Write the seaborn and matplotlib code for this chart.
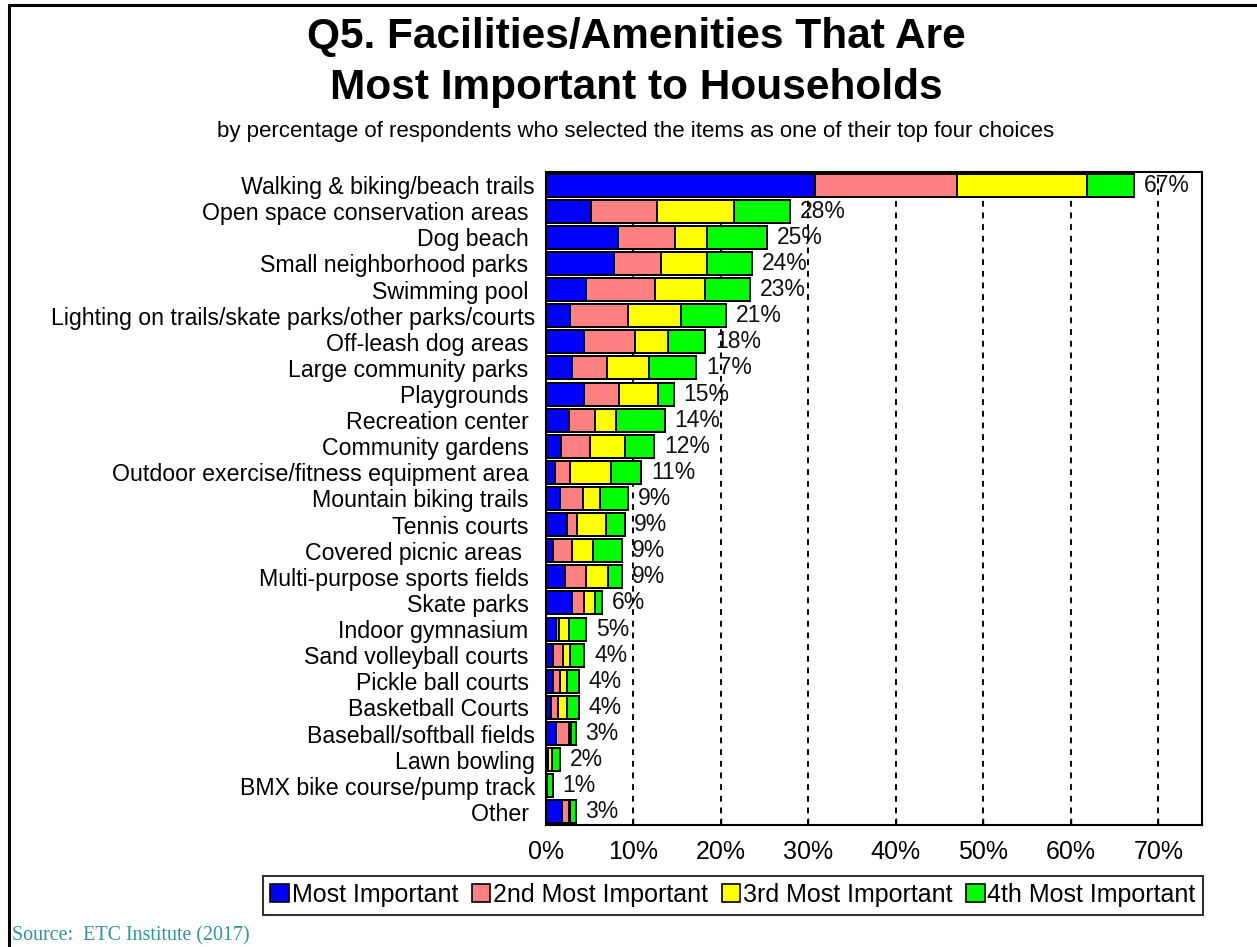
import numpy as np
import pandas as pd
import matplotlib
matplotlib.use("Agg")
import matplotlib.pyplot as plt
from matplotlib.patches import Patch
from matplotlib.lines import Line2D
import seaborn as sns

# Facilities, listed top to bottom
categories = [
    "Walking & biking/beach trails",
    "Open space conservation areas ",
    "Dog beach ",
    "Small neighborhood parks ",
    "Swimming pool ",
    "Lighting on trails/skate parks/other parks/courts",
    "Off-leash dog areas ",
    "Large community parks ",
    "Playgrounds ",
    "Recreation center ",
    "Community gardens ",
    "Outdoor exercise/fitness equipment area ",
    "Mountain biking trails ",
    "Tennis courts ",
    "Covered picnic areas  ",
    "Multi-purpose sports fields ",
    "Skate parks ",
    "Indoor gymnasium ",
    "Sand volleyball courts ",
    "Pickle ball courts ",
    "Basketball Courts ",
    "Baseball/softball fields",
    "Lawn bowling",
    "BMX bike course/pump track",
    "Other ",
]

# Percent of respondents choosing each item as 1st..4th most important
most_important = [30.7, 5.2, 8.2, 7.8, 4.6, 2.8, 4.4, 3.0, 4.4, 2.6, 1.7, 1.0, 1.6,
                  2.4, 0.8, 2.2, 3.0, 1.2, 0.8, 0.8, 0.6, 1.1, 0.1, 0.1, 1.8]
second_important = [16.3, 7.5, 6.6, 5.4, 7.9, 6.6, 5.8, 4.0, 4.0, 3.0, 3.3, 1.8, 2.6,
                    1.2, 2.2, 2.4, 1.4, 0.3, 1.1, 0.8, 0.8, 1.5, 0.1, 0.0, 0.8]
third_important = [14.8, 8.8, 3.6, 5.2, 5.7, 6.0, 3.8, 4.8, 4.4, 2.4, 4.0, 4.6, 2.0,
                   3.3, 2.4, 2.5, 1.2, 1.1, 0.9, 0.8, 1.0, 0.3, 0.5, 0.0, 0.1]
fourth_important = [5.4, 6.4, 6.9, 5.2, 5.1, 5.2, 4.2, 5.4, 1.8, 5.6, 3.4, 3.5, 3.2,
                    2.1, 3.3, 1.6, 0.8, 2.0, 1.6, 1.4, 1.4, 0.5, 0.9, 0.7, 0.7]

series_names = ["Most Important", "2nd Most Important", "3rd Most Important", "4th Most Important"]
series_colors = ["#0000FF", "#FF8080", "#FFFF00", "#00FF00"]
x_ticks = [0, 10, 20, 30, 40, 50, 60, 70]

title_lines = ["Q5. Facilities/Amenities That Are", "Most Important to Households"]
subtitle_text = "by percentage of respondents who selected the items as one of their top four choices"
source_text = "Source:  ETC Institute (2017)"

sns.set_theme(style="white")
plt.rcParams["font.family"] = ["Liberation Sans", "DejaVu Sans"]
plt.rcParams.update({"text.color": "black", "axes.labelcolor": "black",
                     "xtick.color": "black", "ytick.color": "black"})

df = pd.DataFrame({
    "item": categories,
    series_names[0]: most_important,
    series_names[1]: second_important,
    series_names[2]: third_important,
    series_names[3]: fourth_important,
})
stacked = df[series_names].cumsum(axis=1)
totals = stacked[series_names[-1]].to_numpy()

fig = plt.figure(figsize=(12.57, 9.47), dpi=100)
ax = fig.add_axes([546 / 1257, 1 - 825 / 947, 656 / 1257, 653 / 947])

# Stack by drawing cumulative totals from the outermost layer inward
for name, color in zip(series_names[::-1], series_colors[::-1]):
    sns.barplot(data=stacked.assign(item=categories), x=name, y="item", orient="h",
                color=color, edgecolor="black", linewidth=1.4, width=0.88,
                saturation=1, ax=ax, zorder=3)

for i, tot in enumerate(totals):
    ax.text(tot + 1.1, i, f"{tot:.0f}%", va="center", ha="left", fontsize=16.5,
            color="#111111", zorder=2)

ax.set_xlim(0, 75)
ax.set_ylim(len(categories) - 0.5, -0.5)
ax.set_xticks(x_ticks)
ax.set_xticklabels([f"{t}%" for t in x_ticks], fontsize=18)
ax.tick_params(axis="x", direction="in", length=5, width=1, color="black", pad=11,
               bottom=True)
ax.tick_params(axis="y", length=0, pad=8, labelsize=16.7)
ax.set_xlabel("")
ax.set_ylabel("")
for t in x_ticks[1:]:
    ax.axvline(t, color="black", linestyle=(0, (3, 3)), linewidth=1.4, zorder=1)
for s in ax.spines.values():
    s.set_visible(True)
    s.set_color("black")
    s.set_linewidth(1.5)

handles = [Patch(facecolor=c, edgecolor="black", linewidth=1.2) for c in series_colors]
leg = fig.legend(handles, series_names, loc="center", bbox_to_anchor=(733 / 1257, 1 - 895 / 947),
                 ncol=4, fontsize=18, frameon=True, fancybox=False, handlelength=0.75,
                 handleheight=0.75, handletextpad=0.1, columnspacing=0.55, borderpad=0.3,
                 borderaxespad=0)
leg.get_frame().set_edgecolor("black")
leg.get_frame().set_linewidth(1.5)

fig.text(636 / 1257, 1 - 37 / 947, title_lines[0], ha="center", va="center", fontsize=30.5,
         fontweight="bold")
fig.text(636 / 1257, 1 - 88 / 947, title_lines[1], ha="center", va="center", fontsize=30.5,
         fontweight="bold")
fig.text(636 / 1257, 1 - 132 / 947, subtitle_text, ha="center", va="center", fontsize=16)
fig.text(12 / 1257, 1 - 936 / 947, source_text, ha="left", va="center", fontsize=14.4,
         color="#2E9696", family=["Liberation Serif", "DejaVu Serif"])

# Page frame on the top and left edges
fig.add_artist(Line2D([9 / 1257, 1], [1 - 5 / 947, 1 - 5 / 947], color="black", linewidth=2.2,
                      transform=fig.transFigure))
fig.add_artist(Line2D([9 / 1257, 9 / 1257], [0, 1 - 5 / 947], color="black", linewidth=2.2,
                      transform=fig.transFigure))

fig.savefig("out.png", dpi=100, facecolor="white")
